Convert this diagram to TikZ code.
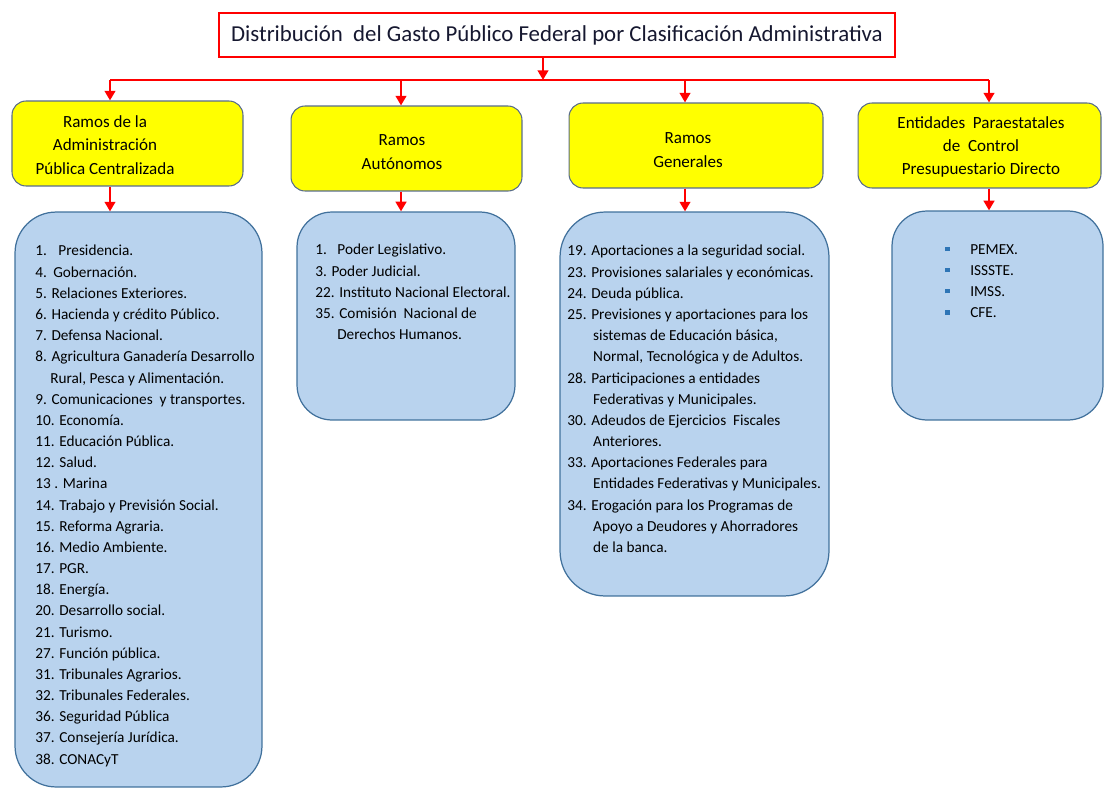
\documentclass[tikz,border=0pt]{standalone}
\usepackage{fontspec}
\setmainfont{Carlito}
\usetikzlibrary{arrows.meta}
\definecolor{headyellow}{RGB}{255,255,0}
\definecolor{listblue}{RGB}{185,211,238}
\definecolor{edgeblue}{RGB}{65,113,156}
\definecolor{edgegray}{RGB}{88,108,138}
\definecolor{dotblue}{RGB}{46,117,182}
\definecolor{titleink}{RGB}{22,24,48}
\newcommand{\listdot}{\makebox[14.2pt][l]{\textcolor{dotblue}{\rule[1.8pt]{2.4pt}{2.4pt}}}}

\begin{document}
\begin{tikzpicture}[x=0.02cm, y=-0.02cm,
  titlebox/.style={draw=red, line width=1.6pt, fill=white, text=titleink, minimum width=13.52cm, minimum height=0.88cm, font=\fontsize{13}{15}\selectfont},
  head/.style={draw=edgegray, line width=0.6pt, fill=headyellow, rounded corners=0.28cm, minimum height=1.70cm},
  headtext/.style={align=center, font=\fontsize{9.7}{13.3}\selectfont},
  list/.style={draw=edgeblue, line width=0.7pt, fill=listblue},
  listtext/.style={anchor=north west, inner sep=0pt, align=left, font=\fontsize{8.7}{12.05}\selectfont},
  link/.style={red, line width=1.4pt},
  conn/.style={link, -{Triangle[length=5.5pt,width=6pt]}}]

  \useasboundingbox (0,0) rectangle (1104,788);

  % Title
  \node[titlebox] (T) at (557,35) {Distribución\ \ del Gasto Público Federal por Clasificación Administrativa};

  % First row
  \node[head, minimum width=4.62cm] (A1) at (127.5,143.5) {};
  \node[head, minimum width=4.62cm] (A2) at (406.5,148.5) {};
  \node[head, minimum width=5.08cm] (A3) at (696,145.5) {};
  \node[head, minimum width=4.86cm] (A4) at (979.5,145.5) {};

  \node[headtext] (A1t) at (105,145) {Ramos de la\\Administración\\Pública Centralizada};
  \node[headtext] (A2t) at (402,152) {Ramos\\Autónomos};
  \node[headtext] (A3t) at (688,150) {Ramos\\Generales};
  \node[headtext] (A4t) at (981,147) {Entidades\ \ Paraestatales\\de\ \ Control\\Presupuestario Directo};

  % Second row
  \node[list, rounded corners=0.82cm, minimum width=4.94cm, minimum height=11.5cm] (B1) at (138.5,499.5) {};
  \node[list, rounded corners=0.7cm, minimum width=4.36cm, minimum height=4.16cm] (B2) at (406,316) {};
  \node[list, rounded corners=0.9cm, minimum width=5.38cm, minimum height=7.68cm] (B3) at (694.5,404) {};
  \node[list, rounded corners=0.7cm, minimum width=4.22cm, minimum height=4.18cm] (B4) at (997.5,315.5) {};

  \node[listtext] (B1t) at (35,245) {1.\hspace*{6.5pt}Presidencia.\\
    4.\hspace*{3.6pt}Gobernación.\\
    5. Relaciones Exteriores.\\
    6. Hacienda y crédito Público.\\
    7. Defensa Nacional.\\
    8. Agricultura Ganadería Desarrollo\\
    \hspace*{8.5pt}Rural, Pesca y Alimentación.\\
    9. Comunicaciones\ \ y transportes.\\
    10. Economía.\\
    11. Educación\ Pública.\\
    12. Salud.\\
    13 . Marina\\
    14. Trabajo y Previsión Social.\\
    15. Reforma Agraria.\\
    16. Medio Ambiente.\\
    17. PGR.\\
    18. Energía.\\
    20. Desarrollo social.\\
    21. Turismo.\\
    27. Función\ pública.\\
    31. Tribunales Agrarios.\\
    32. Tribunales Federales.\\
    36. Seguridad Pública\\
    37. Consejería Jurídica.\\
    38. CONACyT};

  \node[listtext] (B2t) at (315,244) {1.\hspace*{6pt}Poder Legislativo.\\
    3. Poder Judicial.\\
    22. Instituto Nacional Electoral.\\
    35. Comisión\ \ Nacional de\\
    \hspace*{12.5pt}Derechos Humanos.};

  \node[listtext] (B3t) at (567,245) {19. Aportaciones a la seguridad social.\\
    23. Provisiones salariales y económicas.\\
    24. Deuda pública.\\
    25. Previsiones y aportaciones para los\\
    \hspace*{14.7pt}sistemas de Educación básica,\\
    \hspace*{14.7pt}Normal, Tecnológica y de Adultos.\\
    28. Participaciones a entidades\\
    \hspace*{14.7pt}Federativas y Municipales.\\
    30. Adeudos de Ejercicios\ \ Fiscales\\
    \hspace*{14.7pt}Anteriores.\\
    33. Aportaciones Federales para\\
    \hspace*{14.7pt}Entidades Federativas y Municipales.\\
    34. Erogación para los Programas de\\
    \hspace*{14.7pt}Apoyo a Deudores y Ahorradores\\
    \hspace*{14.7pt}de la banca.};

  \node[listtext] (B4t) at (945,244) {\listdot PEMEX.\\
    \listdot ISSSTE.\\
    \listdot IMSS.\\
    \listdot CFE.};

  % Bus
  \coordinate (bus) at (543,80);
  \coordinate (c1) at (110,80);
  \coordinate (c2) at (401,80);
  \coordinate (c3) at (685,80);
  \coordinate (c4) at (989,80);

  \draw[link] (c1) -- (c4);
  \draw[conn] (T.south -| bus) -- (bus);

  % Down to first row
  \draw[conn] (c1) -- (c1 |- A1.north);
  \draw[conn] (c2) -- (c2 |- A2.north);
  \draw[conn] (c3) -- (c3 |- A3.north);
  \draw[conn] (c4) -- (c4 |- A4.north);

  % Down to second row
  \draw[conn] (c1 |- A1.south) -- (c1 |- B1.north);
  \draw[conn] (c2 |- A2.south) -- (c2 |- B2.north);
  \draw[conn] (c3 |- A3.south) -- (c3 |- B3.north);
  \draw[conn] (c4 |- A4.south) -- (c4 |- B4.north);

\end{tikzpicture}
\end{document}
